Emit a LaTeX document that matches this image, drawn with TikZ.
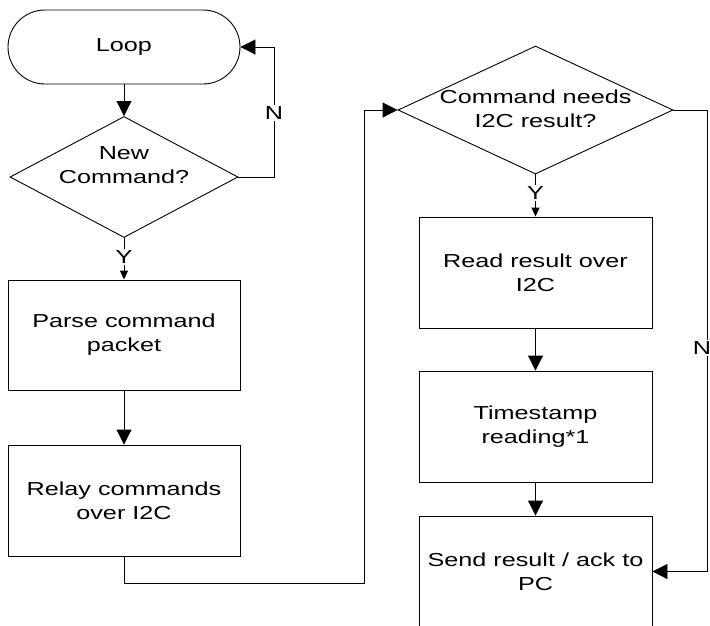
\documentclass[tikz,border=0pt]{standalone}
\usepackage{fontspec}
\setmainfont{Liberation Sans}[FakeStretch=1.34]
\usetikzlibrary{shapes.geometric,arrows.meta}
\begin{document}
\begin{tikzpicture}[x=1pt,y=-1pt,
  font=\fontsize{18.8}{24}\selectfont,
  box/.style={draw,line width=0.9pt,minimum width=233pt,minimum height=111pt,align=center,inner sep=0pt},
  dec/.style={draw,diamond,line width=0.9pt,inner sep=0pt,align=center},
  arr/.style={line width=0.9pt,-{Triangle[width=15pt,length=15pt]}},
  sarr/.style={line width=0.9pt,-{Triangle[width=8pt,length=9pt]}},
  lab/.style={fill=white,inner sep=1.5pt},
  txt/.style={align=center,inner sep=0pt}]
\useasboundingbox (0,0) rectangle (710,625);
% nodes
\node[draw,line width=0.9pt,rounded corners=37pt,minimum width=232pt,minimum height=74pt] (loop) at (124,47) {Loop};
\node[dec,minimum width=228pt,minimum height=121pt] (nc) at (124,177) {};
\node[txt] (nctext) at (124,165) {New\\Command?};
\node[box,minimum width=232pt,minimum height=110pt] (parse) at (124,335) {Parse command\\packet};
\node[box,minimum width=232pt] (relay) at (124,500.5) {Relay commands\\over I2C};
\node[dec,minimum width=275pt,minimum height=128pt] (cn) at (535.5,110) {};
\node[txt] (cntext) at (535.5,108.5) {Command needs\\I2C result?};
\node[box] (read) at (535.5,272.5) {Read result over\\I2C};
\node[box] (ts) at (535.5,426.5) {Timestamp\\reading*1};
\node[box] (send) at (535.5,571.5) {Send result / ack to\\PC};
% helper coordinates
\coordinate (n1) at (274,177);
\coordinate (c2) at (364,583);
\coordinate (n2) at (707,110);
% connectors
\draw[arr] (loop.south) -- (nc.north);
\draw[arr] (nc.east) -- (n1) |- (loop.east);
\draw[sarr] (nc.south) -- (parse.north);
\draw[arr] (parse.south) -- (relay.north);
\draw[arr] (relay.south) |- (c2) |- (cn.west);
\draw[sarr] (cn.south) -- (read.north);
\draw[arr] (read.south) -- (ts.north);
\draw[arr] (ts.south) -- (send.north);
\draw[arr] (cn.east) -- (n2) |- (send.east);
% labels
\node[lab] (ln1) at (274,113) {N};
\node[lab] (ly1) at (124,257) {Y};
\node[lab] (ly2) at (535.5,193) {Y};
\node[lab] (ln2) at (702,348) {N};
\end{tikzpicture}
\end{document}
